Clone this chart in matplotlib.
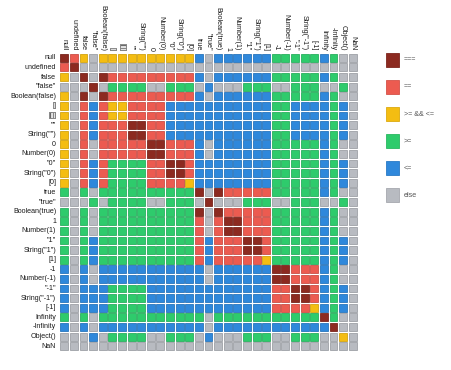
import matplotlib
matplotlib.use('Agg')
import matplotlib.pyplot as plt
from matplotlib.patches import Rectangle
from matplotlib.colors import to_rgb

labels = ['null', 'undefined', 'false', '"false"', 'Boolean(false)', '[]', '[[]]', '""',
          'String("")', '0', 'Number(0)', '"0"', 'String("0")', '[0]', 'true', '"true"',
          'Boolean(true)', '1', 'Number(1)', '"1"', 'String("1")', '[1]', '-1', 'Number(-1)',
          '"-1"', 'String("-1")', '[-1]', 'Infinity', '-Infinity', 'Object()', 'NaN']

# S: ===, E: ==, Y: >= && <=, G: >=, L: <=, X: else
rows = [
    "SEYXYYYYYYYYYYLXLLLLLLGGGGGLGXX",
    "ESXXXXXXXXXXXXXXXXXXXXXXXXXXXXX",
    "YXSXSEEEEEEEEELXLLLLLLGGGGGLGXX",
    "XXXSXGGGGXXGGGXLXXXGGGXXGGGXXGX",
    "YXSXSEEEEEEEEELXLLLLLLGGGGGLGXX",
    "YXELEYYEEEELLLLLLLLLLLGGLLLLGLX",
    "YXELEYYEEEELLLLLLLLLLLGGLLLLGLX",
    "YXELEEESSEELLLLLLLLLLLGGLLLLGLX",
    "YXELEEESSEELLLLLLLLLLLGGLLLLGLX",
    "YXEXEEEEESSEEELXLLLLLLGGGGGLGXX",
    "YXEXEEEEESSEEELXLLLLLLGGGGGLGXX",
    "YXELEGGGGEESSELLLLLLLLGGGGGLGLX",
    "YXELEGGGGEESSELLLLLLLLGGGGGLGLX",
    "YXELEGGGGEEEEYLLLLLLLLGGGGGLGLX",
    "GXGXGGGGGGGGGGSXSEEEEEGGGGGLGXX",
    "XXXGXGGGGXXGGGXSXXXGGGXXGGGXXGX",
    "GXGXGGGGGGGGGGSXSEEEEEGGGGGLGXX",
    "GXGXGGGGGGGGGGEXESSEEEGGGGGLGXX",
    "GXGXGGGGGGGGGGEXESSEEEGGGGGLGXX",
    "GXGLGGGGGGGGGGELEEESSEGGGGGLGLX",
    "GXGLGGGGGGGGGGELEEESSEGGGGGLGLX",
    "GXGLGGGGGGGGGGELEEEEEYGGGGGLGLX",
    "LXLXLLLLLLLLLLLXLLLLLLSSEEELGXX",
    "LXLXLLLLLLLLLLLXLLLLLLSSEEELGXX",
    "LXLLLGGGGLLLLLLLLLLLLLEESSELGLX",
    "LXLLLGGGGLLLLLLLLLLLLLEESSELGLX",
    "LXLLLGGGGLLLLLLLLLLLLLEEEEYLGLX",
    "GXGXGGGGGGGGGGGXGGGGGGGGGGGSGXX",
    "LXLXLLLLLLLLLLLXLLLLLLLLLLLLSXX",
    "XXXLXGGGGXXGGGXLXXXGGGXXGGGXXYX",
    "XXXXXXXXXXXXXXXXXXXXXXXXXXXXXXX",
]

legend_codes = ['S', 'E', 'Y', 'G', 'L', 'X']
legend_labels = ['===', '==', '>= && <=', '>=', '<=', 'else']
palette = {'S': '#8c2a20', 'E': '#ec5b50', 'Y': '#f4bd12', 'G': '#2ecb6c',
           'L': '#2f88db', 'X': '#b8bbc1'}

def darker(c, f=0.86):
    r, g, b = to_rgb(c)
    return (r * f, g * f, b * f)

plt.rcParams['font.family'] = ['Liberation Sans', 'DejaVu Sans']

W, H = 451, 370
fig = plt.figure(figsize=(W / 100, H / 100), dpi=100)
fig.patch.set_facecolor('white')

n = len(labels)
gx0, gy0, gsize = 59.5, 53.0, 298.0
ax = fig.add_axes([gx0 / W, 1 - (gy0 + gsize) / H, gsize / W, gsize / H])
ax.set_xlim(0, n)
ax.set_ylim(n, 0)
ax.axis('off')

pad = 0.09
for i, row in enumerate(rows):
    for j, code in enumerate(row):
        c = palette[code]
        ax.add_patch(Rectangle((j + pad, i + pad), 1 - 2 * pad, 1 - 2 * pad,
                               facecolor=c, edgecolor=darker(c), linewidth=0.6))

for i, lab in enumerate(labels):
    ax.text(-0.35, i + 0.5, lab, ha='right', va='center', fontsize=5.1, color='#1a1a1a')
    ax.text(i + 0.5, -0.25, lab, ha='center', va='bottom', rotation=-90,
            fontsize=5.1, color='#1a1a1a')

# legend
lx0, ly0, lw, lh = 385, 53, 66, 162
lax = fig.add_axes([lx0 / W, 1 - (ly0 + lh) / H, lw / W, lh / H])
lax.set_xlim(0, lw)
lax.set_ylim(lh, 0)
lax.axis('off')
for k, (code, lab) in enumerate(zip(legend_codes, legend_labels)):
    c = palette[code]
    lax.add_patch(Rectangle((0.5, k * 27 + 0.5), 13.5, 13.5, facecolor=c,
                            edgecolor=darker(c, 0.9), linewidth=0.6))
    lax.text(19, k * 27 + 7.2, lab, ha='left', va='center', fontsize=5.1, color='#555555')

fig.savefig('out.png', dpi=100, facecolor='white')
